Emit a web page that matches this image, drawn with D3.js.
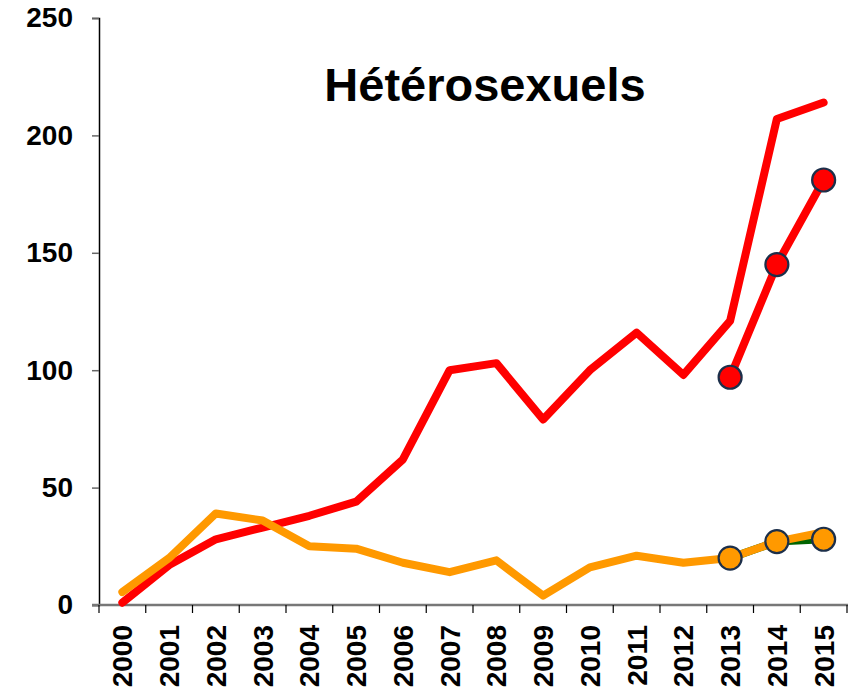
<!DOCTYPE html>
<html>
<head>
<meta charset="utf-8">
<script src="https://cdn.jsdelivr.net/npm/d3@7"></script>
<style>
  body { margin: 0; background: #fff; }
  text { font-family: Arial, "Liberation Sans", sans-serif; font-weight: bold; }
</style>
</head>
<body>
<svg id="chart" width="856" height="699"></svg>
<script>
// Years on the x axis
var years = ["2000","2001","2002","2003","2004","2005","2006","2007","2008","2009","2010","2011","2012","2013","2014","2015"];
// Red line, full period
var redValues = [1, 17, 28, 33, 38, 44, 62, 100, 103, 79, 100, 116, 98, 121, 207, 214];
// Orange line, full period
var orangeValues = [5.5, 20, 39, 36, 25, 24, 18, 14, 19, 4, 16, 21, 18, 20, 27, 31];
// Corrected series with markers, 2013-2015
var redMarkYears = ["2013","2014","2015"];
var redMarkValues = [97, 145, 181];
var greenMarkYears = ["2013","2014","2015"];
var greenMarkValues = [20, 27, 28];
var yTicks = [0, 50, 100, 150, 200, 250];

var svg = d3.select("#chart");
var mLeft = 99, mRight = 847, mTop = 18, mBottom = 605;

var x = d3.scaleBand().domain(years).range([mLeft, mRight]);
var y = d3.scaleLinear().domain([0, 250]).range([mBottom, mTop]);
var cx = d => x(d) + x.bandwidth() / 2;

// Title
svg.append("text")
  .attr("x", 485).attr("y", 101)
  .attr("text-anchor", "middle")
  .style("font-size", "47px")
  .text("Hétérosexuels");

// Y axis
var yAxis = svg.append("g")
  .attr("transform", "translate(" + mLeft + ",0)")
  .call(d3.axisLeft(y).tickValues(yTicks).tickSize(7).tickPadding(19));
yAxis.attr("font-family", null).attr("font-size", null);
yAxis.select(".domain").attr("stroke", "#000").attr("stroke-width", 1.5);
yAxis.selectAll(".tick line").attr("stroke", "#666").attr("stroke-width", 1.5);
yAxis.selectAll(".tick text").style("font-size", "28px").attr("fill", "#000");

// X axis with ticks between categories
var xAxis = svg.append("g").attr("transform", "translate(0," + mBottom + ")");
xAxis.append("line")
  .attr("x1", mLeft - 7).attr("x2", mRight + 1)
  .attr("stroke", "#777").attr("stroke-width", 2.5);
xAxis.selectAll("line.tk")
  .data(years.concat(["end"]))
  .enter().append("line")
  .attr("class", "tk")
  .attr("x1", (d, i) => i < years.length ? x(d) : mRight)
  .attr("x2", (d, i) => i < years.length ? x(d) : mRight)
  .attr("y1", 0).attr("y2", 8)
  .attr("stroke", "#000").attr("stroke-width", 1.2);
xAxis.selectAll("text")
  .data(years)
  .enter().append("text")
  .attr("transform", d => "translate(" + (cx(d) + 10) + ",20) rotate(-90)")
  .attr("text-anchor", "end")
  .style("font-size", "28px")
  .text(d => d);

var line = d3.line().x(d => cx(d[0])).y(d => y(d[1]));

function drawLine(ys, vals, color) {
  svg.append("path")
    .datum(d3.zip(ys, vals))
    .attr("d", line)
    .attr("fill", "none")
    .attr("stroke", color)
    .attr("stroke-width", 8)
    .attr("stroke-linejoin", "round")
    .attr("stroke-linecap", "round");
}

function drawMarkers(ys, vals, color) {
  svg.append("g").selectAll("circle")
    .data(d3.zip(ys, vals))
    .enter().append("circle")
    .attr("cx", d => cx(d[0]))
    .attr("cy", d => y(d[1]))
    .attr("r", 11.5)
    .attr("fill", color)
    .attr("stroke", "#1c2f4a")
    .attr("stroke-width", 2.2);
}

drawLine(years, redValues, "#ff0000");
drawLine(redMarkYears, redMarkValues, "#ff0000");
drawMarkers(redMarkYears, redMarkValues, "#ff0000");

drawLine(greenMarkYears, greenMarkValues, "#006400");
drawLine(years, orangeValues, "#ff9900");
drawMarkers(greenMarkYears, greenMarkValues, "#ff9900");
</script>
</body>
</html>
